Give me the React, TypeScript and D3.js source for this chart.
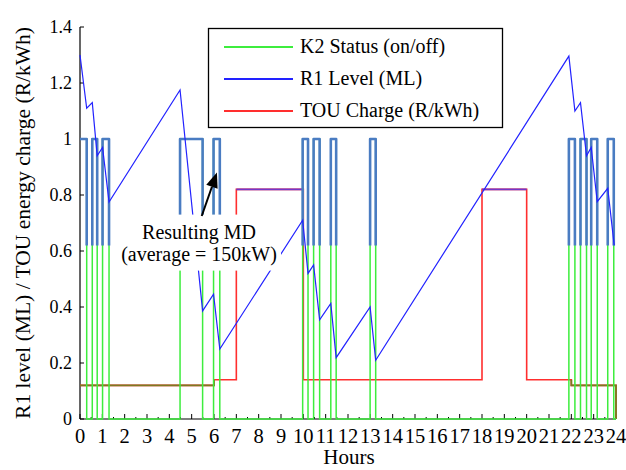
import React from "react";
import * as d3 from "d3";

// K2 pump switching times (hours)
const k2On = [0, 0.55, 1.01, 4.48, 5.98, 9.97, 10.46, 11.23, 12.99, 21.89, 22.41, 22.89, 23.63];
const k2Off = [0.3, 0.77, 1.3, 5.49, 6.26, 10.21, 10.73, 11.47, 13.24, 22.16, 22.68, 23.16, 23.9];

// R1 reservoir level (ML)
const r1Hours = [0, 0.3, 0.55, 0.77, 1.01, 1.3, 4.48, 5.49, 5.98, 6.26, 9.97, 10.21, 10.46, 10.73, 11.23, 11.47, 12.99, 13.24, 21.89, 22.16, 22.41, 22.68, 22.89, 23.16, 23.63, 23.92];
const r1Level = [1.3, 1.11, 1.13, 0.94, 0.97, 0.775, 1.175, 0.386, 0.446, 0.25, 0.71, 0.52, 0.55, 0.354, 0.413, 0.219, 0.4, 0.21, 1.296, 1.1, 1.13, 0.94, 0.97, 0.776, 0.824, 0.62];

// TOU tariff periods
const touStart = [0, 6, 7, 10, 18, 20, 22];
const touEnd = [6, 7, 10, 18, 20, 22, 24];
const touRate = [0.12, 0.14, 0.82, 0.14, 0.82, 0.14, 0.12];
const touPeriod = ["off-peak", "standard", "peak", "standard", "peak", "standard", "off-peak"];

const xTicks = d3.range(0, 25);
const xMinorTicks = d3.range(0.5, 24, 1);
const yTicks = [0, 0.2, 0.4, 0.6, 0.8, 1, 1.2, 1.4];

const legendItems = ["K2 Status (on/off)", "R1 Level (ML)", "TOU Charge (R/kWh)"];

const GREEN = "#3ded3d";
const STEEL = "#4a7cc2";
const BLUE = "#2222ff";
const RED = "#ff2e2e";
const OLIVE = "#7d7a22";
const PURPLE = "#7436c8";
const periodColor: Record<string, string> = { "off-peak": OLIVE, standard: RED, peak: PURPLE };

const W = 626;
const H = 470;
const FONT = "'Liberation Serif', 'Times New Roman', serif";

export default function App() {
  const x = d3.scaleLinear().domain([0, 24]).range([80, 616]);
  const y = d3.scaleLinear().domain([0, 1.4]).range([419, 27]);

  // K2 status step points
  const k2Points: [number, number][] = [];
  k2On.forEach((t, i) => {
    k2Points.push([t, 1]);
    k2Points.push([k2Off[i], 0]);
  });
  k2Points.push([24, 0]);
  const stepLine = d3
    .line<[number, number]>()
    .x((d) => x(d[0]))
    .y((d) => y(d[1]))
    .curve(d3.curveStepAfter);
  const k2Path = stepLine(k2Points) || "";

  const r1Path =
    d3
      .line<number>()
      .x((d, i) => x(r1Hours[i]))
      .y((d) => y(d))(r1Level) || "";

  const touPoints: [number, number][] = touStart.map((t, i) => [t, touRate[i]]);
  touPoints.push([24, touRate[touRate.length - 1]]);
  touPoints.push([24, 0]);
  const touPath = stepLine(touPoints) || "";

  // colour overlays for off-peak / peak segments
  const overlays = touStart.map((t, i) => {
    const p = touPeriod[i];
    const r = touRate[i];
    if (p === "off-peak") {
      const prev = i > 0 ? touRate[i - 1] : r;
      const next = i < touRate.length - 1 ? touRate[i + 1] : 0;
      return {
        color: periodColor[p],
        d: `M${x(t)},${y(prev)}L${x(t)},${y(r)}L${x(touEnd[i])},${y(r)}L${x(touEnd[i])},${y(next)}`,
      };
    }
    if (p === "peak") {
      return { color: periodColor[p], d: `M${x(t)},${y(r)}L${x(touEnd[i])},${y(r)}` };
    }
    return null;
  });

  // annotation anchors (data units)
  const tip = [6.13, 0.88];
  const tail = [5.45, 0.725];
  const ang = Math.atan2(y(tip[1]) - y(tail[1]), x(tip[0]) - x(tail[0]));
  const ah = 15;
  const aw = 6;
  const bx = x(tip[0]) - ah * Math.cos(ang);
  const by = y(tip[1]) - ah * Math.sin(ang);
  const head = [
    [x(tip[0]), y(tip[1])],
    [bx + aw * Math.sin(ang), by - aw * Math.cos(ang)],
    [bx - aw * Math.sin(ang), by + aw * Math.cos(ang)],
  ]
    .map((p) => p.join(","))
    .join(" ");

  const legendColors = [GREEN, BLUE, RED];

  return (
    <svg
      width={W}
      height={H}
      style={{ position: "absolute", left: 0, top: 0, background: "#fff" }}
      fontFamily={FONT}
    >
      <defs>
        <clipPath id="upper">
          <rect x={0} y={y(1) - 4} width={W} height={y(0.62) - y(1) + 4} />
        </clipPath>
      </defs>

      {/* axes */}
      <line x1={x(0)} x2={x(0)} y1={y(1.4)} y2={y(0)} stroke="#000" strokeWidth={1.2} />
      <line x1={x(0)} x2={x(24)} y1={y(0)} y2={y(0)} stroke="#000" strokeWidth={1.2} />
      {yTicks.map((t) => (
        <g key={t}>
          <line x1={x(0)} x2={x(0) + 4} y1={y(t)} y2={y(t)} stroke="#000" />
          <text x={x(0) - 8} y={y(t) + 6} textAnchor="end" fontSize={18}>
            {t}
          </text>
        </g>
      ))}
      {xTicks.map((t) => (
        <g key={t}>
          <line x1={x(t)} x2={x(t)} y1={y(0)} y2={y(0) - 5} stroke="#000" />
          <text x={x(t)} y={443} textAnchor="middle" fontSize={20.5}>
            {t}
          </text>
        </g>
      ))}
      {xMinorTicks.map((t) => (
        <line key={t} x1={x(t)} x2={x(t)} y1={y(0)} y2={y(0) - 2} stroke="#000" />
      ))}

      {/* TOU charge */}
      <path d={touPath} fill="none" stroke={RED} strokeWidth={1.6} />
      {overlays.map((o, i) =>
        o ? <path key={i} d={o.d} fill="none" stroke={o.color} strokeWidth={1.8} /> : null
      )}

      {/* K2 status */}
      <path d={k2Path} fill="none" stroke={GREEN} strokeWidth={1.5} />
      <path
        d={k2Path}
        fill="none"
        stroke={STEEL}
        strokeWidth={2.6}
        strokeLinejoin="round"
        clipPath="url(#upper)"
      />

      {/* R1 level */}
      <path d={r1Path} fill="none" stroke={BLUE} strokeWidth={1.2} />

      {/* annotation */}
      <rect x={120} y={y(0.73)} width={161} height={y(0.53) - y(0.73)} fill="#fff" />
      <text x={x(5.33)} y={y(0.643)} textAnchor="middle" fontSize={20}>
        Resulting MD
      </text>
      <text x={x(5.33)} y={y(0.564)} textAnchor="middle" fontSize={20}>
        (average = 150kW)
      </text>
      <line
        x1={x(tail[0])}
        y1={y(tail[1])}
        x2={bx}
        y2={by}
        stroke="#000"
        strokeWidth={2}
      />
      <polygon points={head} fill="#000" />

      {/* legend */}
      <rect x={208.5} y={28.5} width={294} height={99} fill="#fff" stroke="#000" strokeWidth={1.3} />
      {legendItems.map((label, i) => (
        <g key={label} transform={`translate(0,${47 + i * 32})`}>
          <line x1={224} x2={293} y1={0} y2={0} stroke={legendColors[i]} strokeWidth={2} />
          <text x={300} y={6} fontSize={20}>
            {label}
          </text>
        </g>
      ))}

      {/* axis titles */}
      <text x={349} y={464} textAnchor="middle" fontSize={21}>
        Hours
      </text>
      <text
        transform={`translate(30,${(y(0) + y(1.4)) / 2}) rotate(-90)`}
        textAnchor="middle"
        fontSize={21.5}
      >
        R1 level (ML) / TOU energy charge (R/kWh)
      </text>
    </svg>
  );
}
